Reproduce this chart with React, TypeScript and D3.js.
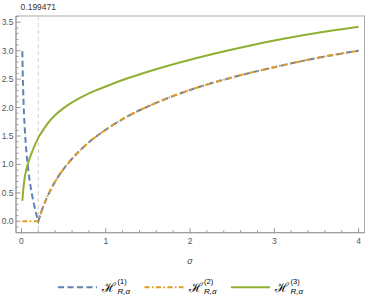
import React from 'react';
import * as d3 from 'd3';

// sigma grid shared by the three curves
const sigma = [
  0.01, 0.015, 0.02, 0.03, 0.04, 0.05, 0.06, 0.08, 0.1, 0.12, 0.15, 0.18, 0.199471,
  0.25, 0.3, 0.4, 0.5, 0.6, 0.8, 1, 1.25, 1.5, 2, 2.5, 3, 3.5, 4,
];
const h1 = [
  2.99, 2.59, 2.3, 1.89, 1.61, 1.38, 1.2, 0.91, 0.69, 0.51, 0.29, 0.1, 0,
  0.23, 0.41, 0.7, 0.92, 1.1, 1.39, 1.61, 1.84, 2.02, 2.31, 2.53, 2.71, 2.87, 3.0,
];
const h2 = [
  0, 0, 0, 0, 0, 0, 0, 0, 0, 0, 0, 0, 0,
  0.23, 0.41, 0.7, 0.92, 1.1, 1.39, 1.61, 1.84, 2.02, 2.31, 2.53, 2.71, 2.87, 3.0,
];
const h3 = [
  0.36, 0.45, 0.53, 0.67, 0.78, 0.86, 0.93, 1.03, 1.12, 1.2, 1.31, 1.41, 1.47,
  1.59, 1.7, 1.87, 1.99, 2.09, 2.25, 2.37, 2.51, 2.63, 2.84, 3.02, 3.18, 3.31, 3.42,
];
const marker = 0.199471;
const xTicks = [0, 1, 2, 3, 4];
const yTicks = [0, 0.5, 1, 1.5, 2, 2.5, 3, 3.5];
const legendSup = ['(1)', '(2)', '(3)'];

const W = 366;
const H = 303;
const frame = { left: 16, right: 364.5, top: 16, bottom: 232.7 };

const colors = ['#5E81B5', '#E19C24', '#8FB032'];
const dashes = ['6,3.5', '5,2.5,1.5,2.5', null];

export default function App() {
  const x = d3.scaleLinear().domain([-0.065, 4.07]).range([frame.left, frame.right]);
  const y = d3.scaleLinear().domain([-0.2, 3.61]).range([frame.bottom, frame.top]);

  const line = d3
    .line<[number, number]>()
    .x((d) => x(d[0]))
    .y((d) => y(d[1]))
    .curve(d3.curveMonotoneX);

  // split at the kink so the corner stays sharp
  const kink = sigma.indexOf(marker);
  const pathFor = (vals: number[], split: boolean) => {
    const pts = sigma.map((s, i) => [s, vals[i]] as [number, number]);
    if (!split) return line(pts) || '';
    const a = line(pts.slice(0, kink + 1)) || '';
    const b = (line(pts.slice(kink)) || '').replace(/^M/, 'L');
    return a + b;
  };
  const paths = [pathFor(h1, true), pathFor(h2, true), pathFor(h3, false)];

  const minorX = d3.range(0, 4.01, 0.2).filter((v) => Math.abs(v - Math.round(v)) > 1e-6);
  const minorY = d3.range(-0.1, 3.61, 0.1).filter((v) => Math.abs(v * 2 - Math.round(v * 2)) > 1e-6);

  const axisColor = '#999';
  const labelColor = '#555';
  const font = '"Liberation Sans", Arial, sans-serif';

  return (
    <svg
      width={W}
      height={H}
      style={{ position: 'absolute', left: 0, top: 0, background: '#fff' }}
      fontFamily={font}
    >
      {/* frame */}
      <rect
        x={frame.left}
        y={frame.top}
        width={frame.right - frame.left}
        height={frame.bottom - frame.top}
        fill="none"
        stroke="#aaa"
        strokeWidth={1}
      />
      {/* axes ticks */}
      {xTicks.map((t) => (
        <g key={'xt' + t}>
          <line x1={x(t)} x2={x(t)} y1={frame.bottom} y2={frame.bottom - 4.5} stroke={axisColor} />
          <text x={x(t)} y={frame.bottom + 11.5} fontSize={8.5} fill={labelColor} textAnchor="middle">
            {t}
          </text>
        </g>
      ))}
      {minorX.map((t) => (
        <line key={'xm' + t} x1={x(t)} x2={x(t)} y1={frame.bottom} y2={frame.bottom - 2.5} stroke={axisColor} />
      ))}
      {yTicks.map((t) => (
        <g key={'yt' + t}>
          <line x1={frame.left} x2={frame.left + 4.5} y1={y(t)} y2={y(t)} stroke={axisColor} />
          <text x={13.5} y={y(t) + 3} fontSize={8.5} fill={labelColor} textAnchor="end">
            {t.toFixed(1)}
          </text>
        </g>
      ))}
      {minorY.map((t) => (
        <line key={'ym' + t} x1={frame.left} x2={frame.left + 2.5} y1={y(t)} y2={y(t)} stroke={axisColor} />
      ))}
      <line x1={frame.left} x2={frame.right} y1={frame.bottom} y2={frame.bottom} stroke={axisColor} />
      <line x1={frame.left} x2={frame.left} y1={frame.top} y2={frame.bottom} stroke={axisColor} />

      {/* marker line */}
      <line
        x1={x(marker)}
        x2={x(marker)}
        y1={frame.top}
        y2={frame.bottom}
        stroke="#cfcfcf"
        strokeDasharray="4,3"
      />
      <text x={x(marker)} y={10} fontSize={8.5} fill="#333" textAnchor="middle">
        {marker}
      </text>

      {/* curves */}
      {paths.map((d, i) => (
        <path
          key={'c' + i}
          d={d}
          fill="none"
          stroke={colors[i]}
          strokeWidth={2}
          strokeDasharray={dashes[i] || undefined}
        />
      ))}

      {/* axis label */}
      <text x={x(2)} y={264} fontSize={9} fontStyle="italic" fill="#444" textAnchor="middle">
        σ
      </text>

      {/* legend */}
      {legendSup.map((s, i) => {
        const lx = 58 + i * 86.5;
        const ly = 287.3;
        return (
          <g key={'lg' + i}>
            <line
              x1={lx}
              x2={lx + 39}
              y1={ly}
              y2={ly}
              stroke={colors[i]}
              strokeWidth={2}
              strokeDasharray={dashes[i] || undefined}
            />
            <text x={lx + 44} y={291.8} fontSize={13} fontFamily="DejaVu Serif, serif" fill="#000">
              ℋ
            </text>
            <text x={lx + 59.5} y={284.3} fontSize={7.5} fill="#000">
              {s}
            </text>
            <text x={lx + 59.5} y={294.3} fontSize={8} fontStyle="italic" fill="#000">
              R,α
            </text>
          </g>
        );
      })}
    </svg>
  );
}
